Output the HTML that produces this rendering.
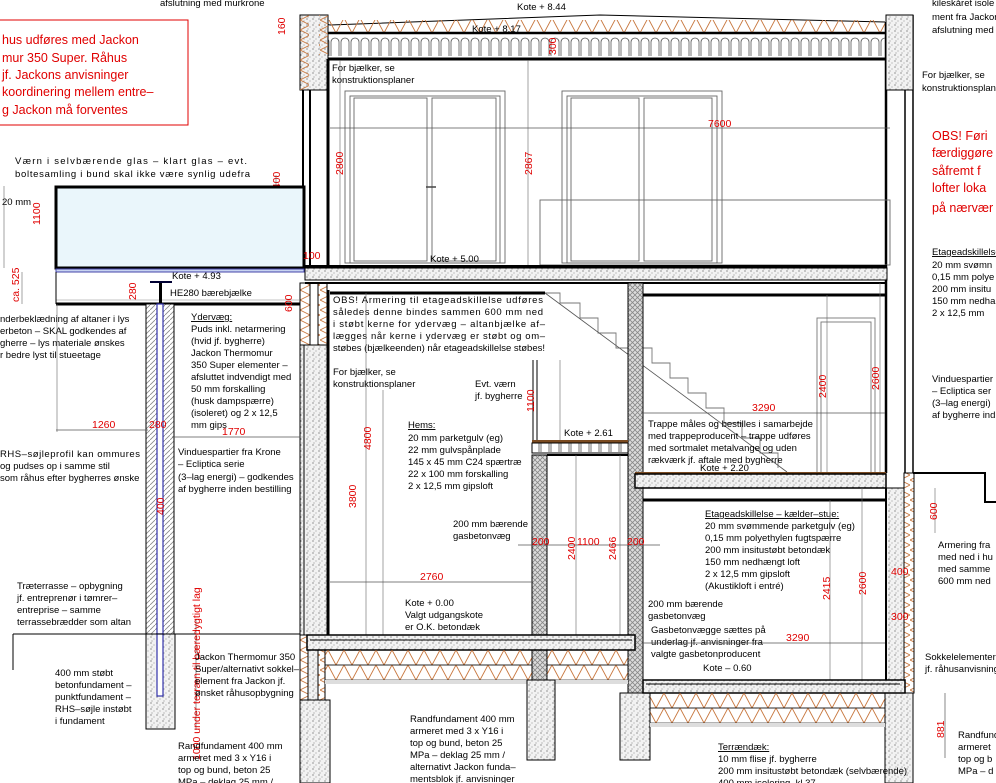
<!DOCTYPE html>
<html><head><meta charset="utf-8"><style>
html,body{margin:0;padding:0;background:#fff;}
svg{display:block;font-family:"Liberation Sans",sans-serif;}
.t{font-size:9.5px;fill:#000;}
.r{font-size:10.5px;fill:#e00000;}
.rb{font-size:12.5px;fill:#e00000;}
.u{text-decoration:underline;}
</style></head><body>
<svg width="996" height="783" viewBox="0 0 996 783" xmlns="http://www.w3.org/2000/svg">
<defs>
<pattern id="conc" width="6" height="6" patternUnits="userSpaceOnUse">
<rect width="6" height="6" fill="#f2f2f2"/><circle cx="1" cy="1" r="0.6" fill="#555"/><circle cx="4" cy="3" r="0.5" fill="#777"/><circle cx="2" cy="5" r="0.5" fill="#666"/></pattern>
<pattern id="xh" width="5" height="5" patternUnits="userSpaceOnUse">
<rect width="5" height="5" fill="#ddd"/><path d="M0 0L5 5M5 0L0 5" stroke="#888" stroke-width="0.8"/></pattern>
<pattern id="hat" width="5" height="5" patternUnits="userSpaceOnUse">
<rect width="5" height="5" fill="#fff"/><path d="M0 5L5 0" stroke="#888" stroke-width="0.8"/></pattern>
<pattern id="z1" x="0" y="18" width="16" height="15" patternUnits="userSpaceOnUse"><path d="M0 15L8 0L16 15" fill="none" stroke="#c87840" stroke-width="0.9"/></pattern>
<pattern id="z2" x="0" y="650" width="16" height="15" patternUnits="userSpaceOnUse"><path d="M0 15L8 0L16 15" fill="none" stroke="#c87840" stroke-width="0.9"/></pattern>
<pattern id="z3" x="0" y="693" width="16" height="15" patternUnits="userSpaceOnUse"><path d="M0 15L8 0L16 15" fill="none" stroke="#c87840" stroke-width="0.9"/></pattern>
<pattern id="zv" x="0" y="0" width="10" height="10" patternUnits="userSpaceOnUse"><path d="M0 0L10 5L0 10" fill="none" stroke="#c87840" stroke-width="0.9"/></pattern>
<pattern id="wav" x="0" y="36" width="10" height="22" patternUnits="userSpaceOnUse"><path d="M1 20V6a4 4 0 0 1 8 0V20" fill="none" stroke="#555" stroke-width="0.8"/></pattern>
</defs>

<rect x="-2" y="20" width="190" height="105" fill="none" stroke="#e00000" stroke-width="1"/>
<text class="rb" x="2" y="44">hus udføres med Jackon</text>
<text class="rb" x="2" y="62">mur 350 Super. Råhus</text>
<text class="rb" x="2" y="79">jf. Jackons anvisninger</text>
<text class="rb" x="2" y="96">koordinering mellem entre–</text>
<text class="rb" x="2" y="114">g Jackon må forventes</text>
<text class="t" x="160" y="6">afslutning med murkrone</text>

<polyline points="300,18 330,25 600,15 885,22" fill="none" stroke="#000" stroke-width="1"/>
<rect x="325" y="20" width="560" height="13" fill="url(#z1)"/>
<line x1="315" y1="33" x2="890" y2="33" stroke="#000" stroke-width="2.5"/>
<rect x="315" y="36" width="575" height="22" fill="url(#wav)"/>
<line x1="315" y1="59" x2="890" y2="59" stroke="#000" stroke-width="3"/>
<text class="t" x="517" y="10">Kote + 8.44</text>
<text class="t" x="472" y="32">Kote + 8.17</text>
<text class="r" transform="translate(556,55) rotate(-90)">300</text>
<text class="r" transform="translate(285,35) rotate(-90)">160</text>
<text class="t" x="932" y="6">kileskåret isole</text>
<text class="t" x="932" y="20">ment fra Jackon</text>
<text class="t" x="932" y="33">afslutning med</text>

<rect x="300" y="15" width="28" height="75" fill="url(#conc)" stroke="#000"/>
<rect x="300" y="15" width="9" height="75" fill="url(#zv)"/>
<rect x="319" y="15" width="9" height="40" fill="url(#zv)"/>
<line x1="303" y1="90" x2="303" y2="265" stroke="#000" stroke-width="2"/>
<line x1="310" y1="90" x2="310" y2="265" stroke="#000" stroke-width="2"/>
<line x1="328" y1="59" x2="328" y2="265" stroke="#000" stroke-width="3"/>
<rect x="300" y="283" width="27" height="62" fill="url(#zv)" stroke="#000"/>
<rect x="310" y="283" width="8" height="62" fill="#fff" stroke="#000"/>
<rect x="300" y="345" width="27" height="290" fill="url(#conc)" stroke="#000"/>
<line x1="304" y1="345" x2="304" y2="635" stroke="#000"/>
<line x1="328" y1="290" x2="328" y2="635" stroke="#000" stroke-width="3"/>
<rect x="300" y="635" width="25" height="65" fill="url(#zv)" stroke="#000"/>
<rect x="308" y="650" width="10" height="50" fill="url(#conc)" stroke="#000"/>
<rect x="300" y="700" width="30" height="83" fill="url(#conc)" stroke="#000"/>

<line x1="886" y1="22" x2="886" y2="473" stroke="#000" stroke-width="2.5"/>
<line x1="905" y1="15" x2="905" y2="473" stroke="#000" stroke-width="1.5"/>
<line x1="913" y1="15" x2="913" y2="473" stroke="#000" stroke-width="1.5"/>
<rect x="886" y="15" width="27" height="75" fill="url(#conc)" stroke="#000"/>
<polyline points="913,473 985,473 985,502 996,502" fill="none" stroke="#000" stroke-width="2"/>
<rect x="904" y="473" width="10" height="220" fill="url(#zv)" stroke="#000"/>
<rect x="886" y="488" width="18" height="205" fill="url(#conc)" stroke="#000"/>
<line x1="886" y1="488" x2="886" y2="680" stroke="#000" stroke-width="2"/>
<rect x="885" y="693" width="28" height="90" fill="url(#conc)" stroke="#000"/>

<text class="t" x="332" y="71">For bjælker, se</text>
<text class="t" x="332" y="83">konstruktionsplaner</text>
<text class="t" x="922" y="78">For bjælker, se</text>
<text class="t" x="922" y="91">konstruktionsplaner</text>
<g fill="none" stroke="#666" stroke-width="0.9">
<rect x="345" y="91" width="160" height="172"/><rect x="350" y="96" width="150" height="167"/>
<rect x="354" y="98" width="73" height="163"/>
<rect x="432" y="98" width="64" height="163"/>
<rect x="562" y="91" width="160" height="172"/><rect x="567" y="96" width="150" height="167"/>
<rect x="571" y="98" width="68" height="163"/><rect x="644" y="98" width="68" height="163"/>
<rect x="540" y="200" width="350" height="65"/>
</g>
<line x1="426" y1="187" x2="436" y2="187" stroke="#444" stroke-width="1.5"/>
<line x1="330" y1="128" x2="890" y2="128" stroke="#555" stroke-width="0.7"/>
<text class="r" x="708" y="127">7600</text>
<line x1="340" y1="60" x2="340" y2="265" stroke="#666" stroke-width="0.6"/>
<line x1="528" y1="60" x2="528" y2="265" stroke="#666" stroke-width="0.6"/>
<text class="r" transform="translate(343,175) rotate(-90)">2800</text>
<text class="r" transform="translate(532,175) rotate(-90)">2867</text>
<text class="r" transform="translate(280,195) rotate(-90)">2400</text>
<line x1="276" y1="175" x2="276" y2="268" stroke="#666" stroke-width="0.6"/>
<text class="rb" x="932" y="140">OBS! Føri</text>
<text class="rb" x="932" y="157">færdiggøre</text>
<text class="rb" x="932" y="175">såfremt f</text>
<text class="rb" x="932" y="192">lofter loka</text>
<text class="rb" x="932" y="212">på nærvær</text>

<text class="t" x="15" y="164" textLength="232">Værn i selvbærende glas – klart glas – evt.</text>
<text class="t" x="15" y="177" textLength="235">boltesamling i bund skal ikke være synlig udefra</text>
<text class="t" x="2" y="205">20 mm</text>
<line x1="4" y1="186" x2="4" y2="268" stroke="#666" stroke-width="0.6"/>
<text class="r" transform="translate(40,225) rotate(-90)">1100</text>
<rect x="56" y="187" width="248" height="81" fill="#eaf6fb" stroke="#000" stroke-width="3"/>
<rect x="56" y="269" width="248" height="3" fill="#c8d4f0" stroke="#44a"/>
<line x1="56" y1="300" x2="300" y2="300" stroke="#888" stroke-width="0.6"/>
<line x1="56" y1="304" x2="300" y2="304" stroke="#000" stroke-width="3"/>
<line x1="56" y1="272" x2="56" y2="304" stroke="#000"/>
<rect x="150" y="281" width="22" height="2" fill="#003"/><rect x="159" y="283" width="3" height="20" fill="#000"/>
<text class="t" x="172" y="279">Kote + 4.93</text>
<text class="t" x="170" y="296">HE280 bærebjælke</text>
<text class="r" x="303" y="259">100</text>
<text class="r" transform="translate(19,302) rotate(-90)">ca. 525</text>
<line x1="22" y1="272" x2="22" y2="304" stroke="#666" stroke-width="0.6"/>
<text class="r" transform="translate(136,300) rotate(-90)">280</text>
<text class="r" transform="translate(292,312) rotate(-90)">600</text>

<rect x="146" y="304" width="28" height="330" fill="url(#hat)" stroke="#000"/>
<rect x="157" y="304" width="6" height="330" fill="#fff" stroke="#33a" stroke-width="1.2"/>
<rect x="146" y="634" width="29" height="95" fill="url(#conc)" stroke="#000"/>
<rect x="157" y="634" width="6" height="62" fill="#fff" stroke="#33a" stroke-width="1.2"/>
<line x1="13" y1="634" x2="300" y2="634" stroke="#000" stroke-width="1"/>
<line x1="13" y1="634" x2="13" y2="670" stroke="#000"/>

<text class="t" x="0" y="322">nderbeklædning af altaner i lys</text>
<text class="t" x="0" y="334">erbeton – SKAL godkendes af</text>
<text class="t" x="0" y="346">gherre – lys materiale ønskes</text>
<text class="t" x="0" y="358">r bedre lyst til stueetage</text>
<text class="t u" x="191" y="320">Ydervæg:</text>
<text class="t" x="191" y="332">Puds inkl. netarmering</text>
<text class="t" x="191" y="344">(hvid jf. bygherre)</text>
<text class="t" x="191" y="356">Jackon Thermomur</text>
<text class="t" x="191" y="368">350 Super elementer –</text>
<text class="t" x="191" y="380">afsluttet indvendigt med</text>
<text class="t" x="191" y="392">50 mm forskalling</text>
<text class="t" x="191" y="404">(husk dampspærre)</text>
<text class="t" x="191" y="416">(isoleret) og 2 x 12,5</text>
<text class="t" x="191" y="428">mm gips</text>
<line x1="56" y1="430" x2="148" y2="430" stroke="#555" stroke-width="0.7"/>
<line x1="57" y1="304" x2="57" y2="432" stroke="#666" stroke-width="0.6"/>
<text class="r" x="92" y="428">1260</text>
<text class="r" x="149" y="428">280</text>
<line x1="172" y1="437" x2="300" y2="437" stroke="#555" stroke-width="0.7"/>
<text class="r" x="222" y="435">1770</text>
<text class="t" x="0" y="457" textLength="140">RHS–søjleprofil kan ommures</text>
<text class="t" x="0" y="469">og pudses op i samme stil</text>
<text class="t" x="0" y="481">som råhus efter bygherres ønske</text>
<text class="t" x="178" y="455">Vinduespartier fra Krone</text>
<text class="t" x="178" y="467">– Ecliptica serie</text>
<text class="t" x="178" y="480">(3–lag energi) – godkendes</text>
<text class="t" x="178" y="492">af bygherre inden bestilling</text>
<text class="r" transform="translate(164,515) rotate(-90)">400</text>
<text class="t" x="17" y="589">Træterrasse – opbygning</text>
<text class="t" x="17" y="601">jf. entreprenør i tømrer–</text>
<text class="t" x="17" y="613">entreprise – samme</text>
<text class="t" x="17" y="625">terrassebrædder som altan</text>
<text class="t" x="55" y="676">400 mm støbt</text>
<text class="t" x="55" y="688">betonfundament –</text>
<text class="t" x="55" y="700">punktfundament –</text>
<text class="t" x="55" y="712">RHS–søjle instøbt</text>
<text class="t" x="55" y="724">i fundament</text>
<line x1="196" y1="620" x2="196" y2="730" stroke="#555" stroke-width="0.6"/>
<text class="r" transform="translate(200,760) rotate(-90)">1000 under terræn til bæredygtigt lag</text>
<text class="t" x="195" y="660">Jackon Thermomur 350</text>
<text class="t" x="195" y="672">Super/alternativt sokkel–</text>
<text class="t" x="195" y="684">element fra Jackon jf.</text>
<text class="t" x="195" y="696">ønsket råhusopbygning</text>
<text class="t" x="178" y="749">Randfundament 400 mm</text>
<text class="t" x="178" y="761">armeret med 3 x Y16 i</text>
<text class="t" x="178" y="773">top og bund, beton 25</text>
<text class="t" x="178" y="785">MPa – deklag 25 mm /</text>

<rect x="305" y="265" width="582" height="3" fill="#000"/>
<rect x="305" y="268" width="582" height="12" fill="url(#conc)" stroke="#000"/>
<line x1="305" y1="283" x2="887" y2="283" stroke="#000" stroke-width="2"/>
<line x1="330" y1="293" x2="545" y2="293" stroke="#000" stroke-width="3"/>
<line x1="643" y1="295" x2="886" y2="295" stroke="#000" stroke-width="3"/>
<text class="t" x="430" y="262">Kote + 5.00</text>

<polyline points="545,293 560,293 560,303 580,303 580,318 598,318 598,333 616,333 616,348 634,348 652,348 652,363 670,363 670,378 688,378 688,393 706,393 706,408 724,408 724,423 742,423 742,438 760,438 760,453 778,453 778,468" fill="none" stroke="#777" stroke-width="0.9"/>
<line x1="545" y1="293" x2="787" y2="472" stroke="#555" stroke-width="0.8"/>

<rect x="628" y="283" width="15" height="410" fill="url(#xh)" stroke="#000"/>
<rect x="532" y="455" width="15" height="225" fill="url(#xh)" stroke="#000"/>
<line x1="533" y1="360" x2="533" y2="440" stroke="#000"/><line x1="537" y1="360" x2="537" y2="440" stroke="#000"/>
<rect x="532" y="440" width="96" height="3" fill="#7a4a20"/>
<rect x="532" y="443" width="96" height="10" fill="url(#wav)" stroke="#000"/>
<line x1="547" y1="455" x2="628" y2="455" stroke="#000" stroke-width="2"/>
<text class="t" x="564" y="436">Kote + 2.61</text>
<line x1="560" y1="360" x2="560" y2="440" stroke="#666" stroke-width="0.6"/>
<text class="r" transform="translate(534,412) rotate(-90)">1100</text>

<text class="t" x="333" y="303" textLength="210">OBS! Armering til etageadskillelse udføres</text>
<text class="t" x="333" y="315" textLength="210">således denne bindes sammen 600 mm ned</text>
<text class="t" x="333" y="327" textLength="212">i støbt kerne for ydervæg – altanbjælke af–</text>
<text class="t" x="333" y="339" textLength="212">lægges når kerne i ydervæg er støbt og om–</text>
<text class="t" x="333" y="351" textLength="212">støbes (bjælkeenden) når etageadskillelse støbes!</text>
<text class="t" x="333" y="375">For bjælker, se</text>
<text class="t" x="333" y="387">konstruktionsplaner</text>
<text class="t" x="475" y="387">Evt. værn</text>
<text class="t" x="475" y="399">jf. bygherre</text>
<text class="t u" x="408" y="428">Hems:</text>
<text class="t" x="408" y="441">20 mm parketgulv (eg)</text>
<text class="t" x="408" y="453">22 mm gulvspånplade</text>
<text class="t" x="408" y="465">145 x 45 mm C24 spærtræ</text>
<text class="t" x="408" y="477">22 x 100 mm forskalling</text>
<text class="t" x="408" y="489">2 x 12,5 mm gipsloft</text>
<line x1="366" y1="293" x2="366" y2="635" stroke="#666" stroke-width="0.6"/>
<line x1="383" y1="390" x2="383" y2="635" stroke="#666" stroke-width="0.6"/>
<text class="r" transform="translate(371,450) rotate(-90)">4800</text>
<text class="r" transform="translate(356,508) rotate(-90)">3800</text>
<text class="t" x="453" y="527">200 mm bærende</text>
<text class="t" x="453" y="539">gasbetonvæg</text>
<line x1="518" y1="545" x2="660" y2="545" stroke="#555" stroke-width="0.7"/>
<text class="r" x="532" y="545">200</text>
<text class="r" transform="translate(575,560) rotate(-90)">2400</text>
<text class="r" x="577" y="545">1100</text>
<text class="r" transform="translate(616,560) rotate(-90)">2466</text>
<text class="r" x="627" y="545">200</text>
<line x1="576" y1="455" x2="576" y2="635" stroke="#666" stroke-width="0.6"/>
<line x1="620" y1="455" x2="620" y2="635" stroke="#666" stroke-width="0.6"/>
<line x1="330" y1="582" x2="532" y2="582" stroke="#555" stroke-width="0.7"/>
<text class="r" x="420" y="580">2760</text>
<text class="t" x="405" y="606">Kote + 0.00</text>
<text class="t" x="405" y="618">Valgt udgangskote</text>
<text class="t" x="405" y="630">er O.K. betondæk</text>

<rect x="307" y="635" width="328" height="15" fill="url(#conc)" stroke="#000" stroke-width="1.5"/>
<line x1="310" y1="640" x2="632" y2="640" stroke="#000"/>
<rect x="325" y="650" width="207" height="15" fill="url(#z2)" stroke="#000" stroke-width="0.6"/>
<rect x="325" y="665" width="207" height="15" fill="url(#z2)" stroke="#000" stroke-width="0.6"/>
<rect x="547" y="650" width="81" height="15" fill="url(#z2)" stroke="#000" stroke-width="0.6"/>
<rect x="547" y="665" width="81" height="15" fill="url(#z2)" stroke="#000" stroke-width="0.6"/>
<rect x="325" y="680" width="303" height="4" fill="#ddd"/>
<rect x="527" y="680" width="28" height="80" fill="url(#conc)" stroke="#000"/>
<rect x="620" y="693" width="30" height="67" fill="url(#conc)" stroke="#000"/>
<text class="t" x="410" y="722">Randfundament 400 mm</text>
<text class="t" x="410" y="734">armeret med 3 x Y16 i</text>
<text class="t" x="410" y="746">top og bund, beton 25</text>
<text class="t" x="410" y="758">MPa – deklag 25 mm /</text>
<text class="t" x="410" y="770">alternativt Jackon funda–</text>
<text class="t" x="410" y="782">mentsblok jf. anvisninger</text>

<g fill="none" stroke="#777" stroke-width="0.9"><rect x="817" y="318" width="58" height="155"/><rect x="821" y="322" width="50" height="151"/></g>
<line x1="827" y1="295" x2="827" y2="473" stroke="#666" stroke-width="0.6"/>
<line x1="880" y1="283" x2="880" y2="473" stroke="#666" stroke-width="0.6"/>
<text class="r" transform="translate(826,398) rotate(-90)">2400</text>
<text class="r" transform="translate(879,390) rotate(-90)">2600</text>
<line x1="641" y1="413" x2="885" y2="413" stroke="#555" stroke-width="0.7"/>
<text class="r" x="752" y="411">3290</text>
<text class="t" x="648" y="427">Trappe måles og bestilles i samarbejde</text>
<text class="t" x="648" y="439">med trappeproducent – trappe udføres</text>
<text class="t" x="648" y="451">med sortmalet metalvange og uden</text>
<text class="t" x="648" y="463">rækværk jf. aftale med bygherre</text>
<text class="t" x="700" y="471">Kote + 2.20</text>
<rect x="635" y="472" width="251" height="2" fill="#7a4a20"/>
<rect x="635" y="474" width="251" height="14" fill="url(#conc)" stroke="#000" stroke-width="1.5"/>
<line x1="643" y1="500" x2="886" y2="500" stroke="#000" stroke-width="3"/>
<text class="t u" x="932" y="255">Etageadskillelse</text>
<text class="t" x="932" y="268">20 mm svømn</text>
<text class="t" x="932" y="280">0,15 mm polye</text>
<text class="t" x="932" y="292">200 mm insitu</text>
<text class="t" x="932" y="304">150 mm nedha</text>
<text class="t" x="932" y="316">2 x 12,5 mm</text>
<text class="t" x="932" y="382">Vinduespartier</text>
<text class="t" x="932" y="394">– Ecliptica ser</text>
<text class="t" x="932" y="406">(3–lag energi)</text>
<text class="t" x="932" y="418">af bygherre ind</text>
<line x1="935" y1="488" x2="935" y2="533" stroke="#666" stroke-width="0.6"/>
<text class="r" transform="translate(937,520) rotate(-90)">600</text>

<text class="t u" x="705" y="517">Etageadskillelse – kælder–stue:</text>
<text class="t" x="705" y="529">20 mm svømmende parketgulv (eg)</text>
<text class="t" x="705" y="541">0,15 mm polyethylen fugtspærre</text>
<text class="t" x="705" y="553">200 mm insitustøbt betondæk</text>
<text class="t" x="705" y="565">150 mm nedhængt loft</text>
<text class="t" x="705" y="577">2 x 12,5 mm gipsloft</text>
<text class="t" x="705" y="589">(Akustikloft i entré)</text>
<line x1="830" y1="500" x2="830" y2="680" stroke="#666" stroke-width="0.6"/>
<line x1="862" y1="488" x2="862" y2="680" stroke="#666" stroke-width="0.6"/>
<text class="r" transform="translate(830,600) rotate(-90)">2415</text>
<text class="r" transform="translate(866,595) rotate(-90)">2600</text>
<text class="t" x="648" y="607">200 mm bærende</text>
<text class="t" x="648" y="619">gasbetonvæg</text>
<text class="t" x="651" y="633">Gasbetonvægge sættes på</text>
<text class="t" x="651" y="645">underlag jf. anvisninger fra</text>
<text class="t" x="651" y="657">valgte gasbetonproducent</text>
<line x1="643" y1="643" x2="885" y2="643" stroke="#555" stroke-width="0.7"/>
<text class="r" x="786" y="641">3290</text>
<text class="t" x="703" y="671">Kote – 0.60</text>
<rect x="643" y="680" width="262" height="13" fill="url(#conc)" stroke="#000" stroke-width="1.5"/>
<line x1="646" y1="684" x2="900" y2="684" stroke="#000"/>
<rect x="650" y="693" width="235" height="15" fill="url(#z3)" stroke="#000" stroke-width="0.6"/>
<rect x="650" y="708" width="235" height="15" fill="url(#z3)" stroke="#000" stroke-width="0.6"/>
<rect x="650" y="723" width="235" height="4" fill="#ddd"/>
<text class="r" x="891" y="575">400</text>
<text class="r" x="891" y="620">300</text>
<text class="t" x="938" y="548">Armering fra</text>
<text class="t" x="938" y="560">med ned i hu</text>
<text class="t" x="938" y="572">med samme</text>
<text class="t" x="938" y="584">600 mm ned</text>
<text class="t" x="925" y="660">Sokkelelementer</text>
<text class="t" x="925" y="672">jf. råhusanvisning</text>
<line x1="945" y1="693" x2="945" y2="758" stroke="#555" stroke-width="0.7"/>
<text class="r" transform="translate(944,738) rotate(-90)">881</text>
<text class="t" x="958" y="738">Randfund</text>
<text class="t" x="958" y="750">armeret</text>
<text class="t" x="958" y="762">top og b</text>
<text class="t" x="958" y="774">MPa – d</text>
<text class="t u" x="718" y="750">Terrændæk:</text>
<text class="t" x="718" y="762">10 mm flise jf. bygherre</text>
<text class="t" x="718" y="774">200 mm insitustøbt betondæk (selvbærende)</text>
<text class="t" x="718" y="786">400 mm isolering, kl 37</text>
</svg>
</body></html>
